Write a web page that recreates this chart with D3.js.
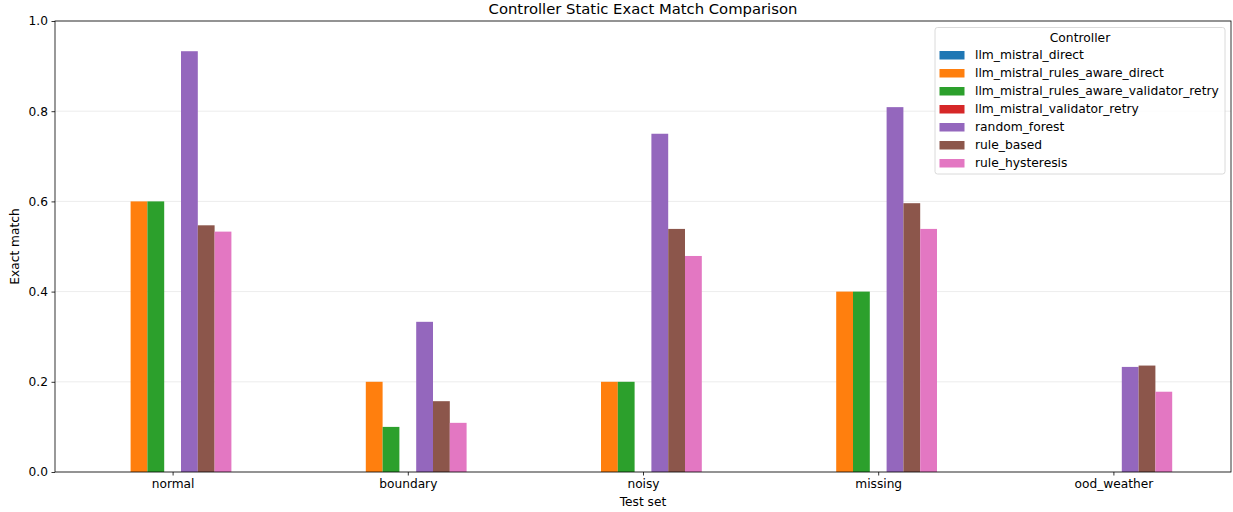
<!DOCTYPE html>
<html><head><meta charset="utf-8">
<script src="https://cdn.jsdelivr.net/npm/d3@7"></script>
<style>
body{margin:0;background:#fff;}
text{font-family:"DejaVu Sans",sans-serif;fill:#000;}
</style></head>
<body><svg id="c" width="1233" height="512"></svg>
<script>
const categories = ["normal","boundary","noisy","missing","ood_weather"];
const seriesNames = ["llm_mistral_direct","llm_mistral_rules_aware_direct","llm_mistral_rules_aware_validator_retry","llm_mistral_validator_retry","random_forest","rule_based","rule_hysteresis"];
const colors = ["#1f77b4","#ff7f0e","#2ca02c","#d62728","#9467bd","#8c564b","#e377c2"];
const llm_mistral_direct = [0,0,0,0,0];
const llm_mistral_rules_aware_direct = [0.6,0.2,0.2,0.4,0];
const llm_mistral_rules_aware_validator_retry = [0.6,0.1,0.2,0.4,0];
const llm_mistral_validator_retry = [0,0,0,0,0];
const random_forest = [0.933,0.333,0.75,0.809,0.233];
const rule_based = [0.547,0.157,0.539,0.596,0.236];
const rule_hysteresis = [0.533,0.109,0.479,0.539,0.178];
const seriesValues = [llm_mistral_direct,llm_mistral_rules_aware_direct,llm_mistral_rules_aware_validator_retry,llm_mistral_validator_retry,random_forest,rule_based,rule_hysteresis];
const yTicks = [0,0.2,0.4,0.6,0.8,1.0];

const svg = d3.select("#c");
const L=55,R=1231,T=21,B=472;
const x = d3.scaleLinear().domain([-0.5,categories.length-0.5]).range([L,R]);
const y = d3.scaleLinear().domain([0,1]).range([B,T]);
const bw = 0.5/seriesNames.length;

// grid
svg.append("g").selectAll("line").data(yTicks).join("line")
  .attr("x1",L).attr("x2",R).attr("y1",d=>y(d)).attr("y2",d=>y(d))
  .attr("stroke","#b0b0b0").attr("stroke-opacity",0.3).attr("stroke-width",0.8);

// bars
seriesNames.forEach((s,i)=>{
  svg.append("g").selectAll("rect").data(seriesValues[i]).join("rect")
    .attr("x",(d,j)=>x(j-0.25+i*bw))
    .attr("width",x(bw)-x(0))
    .attr("y",d=>y(d))
    .attr("height",d=>y(0)-y(d))
    .attr("fill",colors[i]);
});

// axes
const ya = d3.axisLeft(y).tickValues(yTicks).tickFormat(d3.format(".1f")).tickSize(3.5).tickPadding(3.5);
const gy = svg.append("g").attr("transform",`translate(${L},0)`).call(ya);
const xa = d3.axisBottom(x).tickValues(d3.range(categories.length)).tickFormat(i=>categories[i]).tickSize(3.5).tickPadding(3.5);
const gx = svg.append("g").attr("transform",`translate(0,${B})`).call(xa);
[gy,gx].forEach(g=>{
  g.selectAll("text").style("font-size","12.2px").style("font-family","DejaVu Sans").attr("fill","#000");
  g.selectAll("line").attr("stroke","#000").attr("stroke-width",0.8);
  g.select(".domain").remove();
});
svg.append("rect").attr("x",L).attr("y",T).attr("width",R-L).attr("height",B-T)
  .attr("fill","none").attr("stroke","#000").attr("stroke-width",0.8);

// labels
svg.append("text").attr("x",(L+R)/2).attr("y",14).attr("text-anchor","middle").style("font-size","14.8px").text("Controller Static Exact Match Comparison");
svg.append("text").attr("x",(L+R)/2).attr("y",506).attr("text-anchor","middle").style("font-size","12.2px").text("Test set");
svg.append("text").attr("transform",`translate(19,${(T+B)/2}) rotate(-90)`).attr("text-anchor","middle").style("font-size","12.2px").text("Exact match");

// legend
const lg = svg.append("g");
lg.append("rect").attr("x",935).attr("y",27.5).attr("width",290).attr("height",146.5).attr("rx",2.5)
  .attr("fill","#fff").attr("fill-opacity",0.8).attr("stroke","#d0d0d0").attr("stroke-width",0.8);
lg.append("text").attr("x",1080).attr("y",41.5).attr("text-anchor","middle").style("font-size","12.3px").text("Controller");
seriesNames.forEach((s,i)=>{
  const yy = 54.5 + i*18;
  lg.append("rect").attr("x",939.5).attr("y",yy-3.5).attr("width",25).attr("height",8.5).attr("fill",colors[i]);
  lg.append("text").attr("x",975).attr("y",yy+4.5).style("font-size","12.3px").text(s);
});
</script></body></html>
